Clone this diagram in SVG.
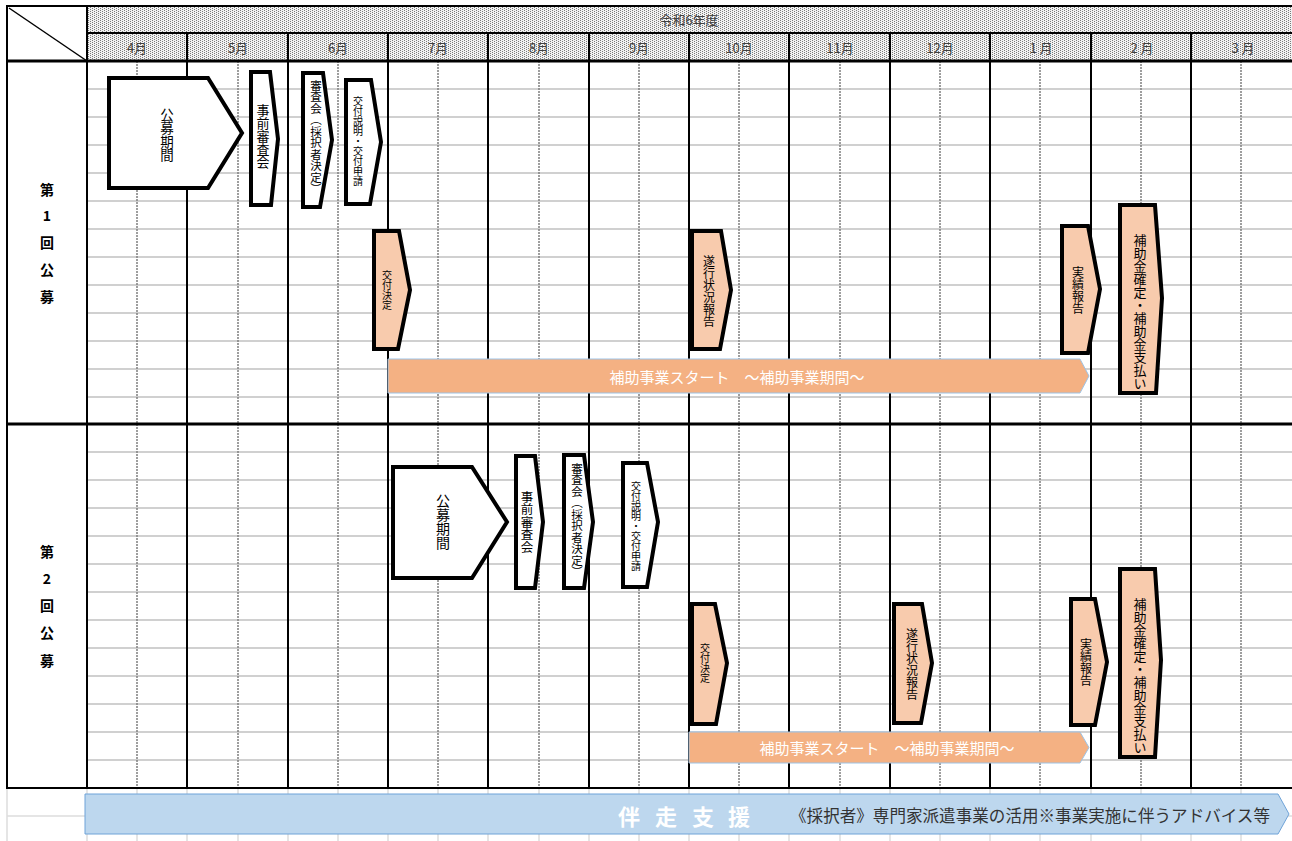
<svg xmlns="http://www.w3.org/2000/svg" width="1292" height="841" viewBox="0 0 1292 841">
<defs>
<pattern id="dots" width="4" height="2" patternUnits="userSpaceOnUse">
<rect width="4" height="2" fill="#f2f2f2"/>
<rect x="0" y="0" width="1" height="1" fill="#7a7a7a"/>
<rect x="2" y="1" width="1" height="1" fill="#7a7a7a"/>
</pattern>
<style>
.hd{font-family:"Noto Sans CJK JP","Noto Sans",sans-serif;font-size:13px;fill:#404040;text-anchor:middle;dominant-baseline:central}
.lb{font-family:"Noto Sans CJK JP","Noto Sans",sans-serif;font-size:14px;font-weight:bold;fill:#000;text-anchor:middle;dominant-baseline:central}
.vt{font-family:"Noto Sans CJK JP",sans-serif;fill:#000;writing-mode:vertical-rl;text-anchor:middle}
.box{fill:#fff;stroke:#000;stroke-width:4;stroke-linejoin:miter}
.obox{fill:#f8cbad;stroke:#000;stroke-width:4;stroke-linejoin:miter}
.bar{fill:#f4b183;stroke:#9dc3e6;stroke-width:1}
.bt{font-family:"Noto Sans CJK JP",sans-serif;font-size:15px;fill:#fff;text-anchor:middle;dominant-baseline:central}
.gh{stroke:#d0d0d0;stroke-width:2}
.gl{stroke:#dcdcdc;stroke-width:1.5}
.mv{stroke:#000;stroke-width:2}
.hv{stroke:#7f7f7f;stroke-width:1.5;stroke-dasharray:2 1}
.bk{stroke:#000;stroke-width:2}
.bk3{stroke:#000;stroke-width:3}
</style>
</defs>
<rect width="1292" height="841" fill="#fff"/>
<g id="grid">
<rect x="87" y="6" width="1205" height="55" fill="url(#dots)"/>
<g class="gl">
<line x1="7" y1="816" x2="1292" y2="816"/>
<line x1="7" y1="788" x2="7" y2="841"/>
<line x1="87" y1="788" x2="87" y2="841"/>
<line x1="137" y1="788" x2="137" y2="841"/><line x1="187" y1="788" x2="187" y2="841"/>
<line x1="238" y1="788" x2="238" y2="841"/><line x1="288" y1="788" x2="288" y2="841"/>
<line x1="338" y1="788" x2="338" y2="841"/><line x1="388" y1="788" x2="388" y2="841"/>
<line x1="438" y1="788" x2="438" y2="841"/><line x1="488" y1="788" x2="488" y2="841"/>
<line x1="539" y1="788" x2="539" y2="841"/><line x1="589" y1="788" x2="589" y2="841"/>
<line x1="639" y1="788" x2="639" y2="841"/><line x1="689" y1="788" x2="689" y2="841"/>
<line x1="739" y1="788" x2="739" y2="841"/><line x1="789" y1="788" x2="789" y2="841"/>
<line x1="840" y1="788" x2="840" y2="841"/><line x1="890" y1="788" x2="890" y2="841"/>
<line x1="940" y1="788" x2="940" y2="841"/><line x1="990" y1="788" x2="990" y2="841"/>
<line x1="1040" y1="788" x2="1040" y2="841"/><line x1="1091" y1="788" x2="1091" y2="841"/>
<line x1="1141" y1="788" x2="1141" y2="841"/><line x1="1191" y1="788" x2="1191" y2="841"/>
<line x1="1241" y1="788" x2="1241" y2="841"/>
</g>
<g class="gh">
<line x1="87" y1="89" x2="1292" y2="89"/><line x1="87" y1="117" x2="1292" y2="117"/>
<line x1="87" y1="145" x2="1292" y2="145"/><line x1="87" y1="173" x2="1292" y2="173"/>
<line x1="87" y1="201" x2="1292" y2="201"/><line x1="87" y1="229" x2="1292" y2="229"/>
<line x1="87" y1="257" x2="1292" y2="257"/><line x1="87" y1="285" x2="1292" y2="285"/>
<line x1="87" y1="313" x2="1292" y2="313"/><line x1="87" y1="341" x2="1292" y2="341"/>
<line x1="87" y1="369" x2="1292" y2="369"/><line x1="87" y1="397" x2="1292" y2="397"/>
<line x1="87" y1="452" x2="1292" y2="452"/><line x1="87" y1="480" x2="1292" y2="480"/>
<line x1="87" y1="508" x2="1292" y2="508"/><line x1="87" y1="536" x2="1292" y2="536"/>
<line x1="87" y1="564" x2="1292" y2="564"/><line x1="87" y1="592" x2="1292" y2="592"/>
<line x1="87" y1="620" x2="1292" y2="620"/><line x1="87" y1="648" x2="1292" y2="648"/>
<line x1="87" y1="676" x2="1292" y2="676"/><line x1="87" y1="704" x2="1292" y2="704"/>
<line x1="87" y1="732" x2="1292" y2="732"/><line x1="87" y1="760" x2="1292" y2="760"/>
</g>
<g class="hv">
<line x1="137" y1="61" x2="137" y2="788"/><line x1="238" y1="61" x2="238" y2="788"/>
<line x1="338" y1="61" x2="338" y2="788"/><line x1="438" y1="61" x2="438" y2="788"/>
<line x1="539" y1="61" x2="539" y2="788"/><line x1="639" y1="61" x2="639" y2="788"/>
<line x1="739" y1="61" x2="739" y2="788"/><line x1="840" y1="61" x2="840" y2="788"/>
<line x1="940" y1="61" x2="940" y2="788"/><line x1="1040" y1="61" x2="1040" y2="788"/>
<line x1="1141" y1="61" x2="1141" y2="788"/><line x1="1241" y1="61" x2="1241" y2="788"/>
</g>
<g class="mv">
<line x1="187" y1="33" x2="187" y2="788"/><line x1="288" y1="33" x2="288" y2="788"/>
<line x1="388" y1="33" x2="388" y2="788"/><line x1="488" y1="33" x2="488" y2="788"/>
<line x1="589" y1="33" x2="589" y2="788"/><line x1="689" y1="33" x2="689" y2="788"/>
<line x1="789" y1="33" x2="789" y2="788"/><line x1="890" y1="33" x2="890" y2="788"/>
<line x1="990" y1="33" x2="990" y2="788"/><line x1="1091" y1="33" x2="1091" y2="788"/>
<line x1="1191" y1="33" x2="1191" y2="788"/>
</g>
<line class="bk" x1="7" y1="6" x2="1292" y2="6"/>
<line class="bk" x1="87" y1="33" x2="1292" y2="33"/>
<line class="bk3" x1="7" y1="61" x2="1292" y2="61"/>
<line class="bk3" x1="7" y1="424" x2="1292" y2="424"/>
<line class="bk" x1="7" y1="788" x2="1292" y2="788"/>
<line class="bk" x1="7" y1="5" x2="7" y2="789"/>
<line class="bk" x1="87" y1="6" x2="87" y2="788"/>
<line x1="9" y1="8" x2="87" y2="61" stroke="#000" stroke-width="1.5"/>
</g>
<g id="header-text">
<text class="hd" x="689" y="19">令和6年度</text>
<text class="hd" x="137" y="47">4月</text>
<text class="hd" x="238" y="47">5月</text>
<text class="hd" x="338" y="47">6月</text>
<text class="hd" x="438" y="47">7月</text>
<text class="hd" x="539" y="47">8月</text>
<text class="hd" x="639" y="47">9月</text>
<text class="hd" x="739" y="47">10月</text>
<text class="hd" x="840" y="47">11月</text>
<text class="hd" x="940" y="47">12月</text>
<text class="hd" x="1041" y="47">1 月</text>
<text class="hd" x="1142" y="47">2 月</text>
<text class="hd" x="1243" y="47">3 月</text>
</g>
<g id="label-round1">
<text class="lb" x="47" y="189">第</text>
<text class="lb" x="47" y="215">1</text>
<text class="lb" x="47" y="242">回</text>
<text class="lb" x="47" y="269">公</text>
<text class="lb" x="47" y="296">募</text>
</g>
<g id="label-round2">
<text class="lb" x="47" y="551">第</text>
<text class="lb" x="47" y="578">2</text>
<text class="lb" x="47" y="605">回</text>
<text class="lb" x="47" y="632">公</text>
<text class="lb" x="47" y="660">募</text>
</g>
<g id="r1-koubo">
<polygon class="box" points="109,78 208,78 242,133 208,188 109,188"/>
<text class="vt" x="167" y="135" font-size="13.5">公募期間</text>
</g>
<g id="r1-jizen">
<polygon class="box" points="251,72 270,72 278,139 271,205 251,205"/>
<text class="vt" x="263" y="136" font-size="13">事前審査会</text>
</g>
<g id="r1-shinsa">
<polygon class="box" points="303,73 323,73 332,140 320,207 303,207"/>
<text class="vt" x="316" y="137" font-size="11.5">審査会（採択者決定）</text>
</g>
<g id="r1-setsumei">
<polygon class="box" points="346,80 371,80 381,142 370,204 346,204"/>
<text class="vt" x="358" y="141" font-size="10">交付説明・交付申請</text>
</g>
<g id="r1-kettei">
<polygon class="obox" points="374,231 399,231 410,290 398,349 374,349"/>
<text class="vt" x="387" y="290" font-size="10">交付決定</text>
</g>
<g id="r1-suikou">
<polygon class="obox" points="692,231 721,231 731,290 720,349 692,349"/>
<text class="vt" x="709" y="291" font-size="12">遂行状況報告</text>
</g>
<g id="r1-bar">
<polygon class="bar" points="388,359 1080,359 1089,376 1080,393 388,393"/>
<text class="bt" x="737" y="376">補助事業スタート　～補助事業期間～</text>
</g>
<g id="r1-jisseki">
<polygon class="obox" points="1062,226 1088,226 1100,289 1088,353 1062,353"/>
<text class="vt" x="1078" y="290" font-size="12">実績報告</text>
</g>
<g id="r1-kakutei">
<polygon class="obox" points="1120,205 1155,205 1162,298 1156,393 1120,393"/>
<text class="vt" x="1140" y="312" font-size="13">補助金確定・補助金支払い</text>
</g>
<g id="r2-koubo">
<polygon class="box" points="393,467 472,467 507,522 472,578 393,578"/>
<text class="vt" x="443" y="522" font-size="14">公募期間</text>
</g>
<g id="r2-jizen">
<polygon class="box" points="516,456 535,456 543,522 535,588 516,588"/>
<text class="vt" x="527" y="522" font-size="12.5">事前審査会</text>
</g>
<g id="r2-shinsa">
<polygon class="box" points="564,455 584,455 593,522 584,588 564,588"/>
<text class="vt" x="577" y="520" font-size="11.5">審査会（採択者決定）</text>
</g>
<g id="r2-setsumei">
<polygon class="box" points="623,463 647,463 658,522 647,587 623,587"/>
<text class="vt" x="636" y="526" font-size="10">交付説明・交付申請</text>
</g>
<g id="r2-kettei">
<polygon class="obox" points="692,604 715,604 727,663 716,724 692,724"/>
<text class="vt" x="705" y="663" font-size="10">交付決定</text>
</g>
<g id="r2-suikou">
<polygon class="obox" points="894,604 922,604 932,663 921,723 894,723"/>
<text class="vt" x="912" y="664" font-size="12">遂行状況報告</text>
</g>
<g id="r2-bar">
<polygon class="bar" points="689,732 1080,732 1089,747.5 1080,763 689,763"/>
<text class="bt" x="887" y="747">補助事業スタート　～補助事業期間～</text>
</g>
<g id="r2-jisseki">
<polygon class="obox" points="1071,599 1095,599 1107,662 1095,725 1071,725"/>
<text class="vt" x="1086" y="662" font-size="12">実績報告</text>
</g>
<g id="r2-kakutei">
<polygon class="obox" points="1120,569 1155,569 1161,660 1155,757 1120,757"/>
<text class="vt" x="1140" y="676" font-size="13">補助金確定・補助金支払い</text>
</g>
<g id="banner">
<polygon points="85,794 1278,794 1289,814 1278,834 85,834" fill="#bdd7ee" stroke="#6fa3d8" stroke-width="1"/>
<text font-family="'Noto Sans CJK JP',sans-serif" font-size="22" font-weight="bold" fill="#fff" text-anchor="middle" dominant-baseline="central" y="815"><tspan x="629">伴</tspan><tspan x="666">走</tspan><tspan x="703">支</tspan><tspan x="739">援</tspan></text>
<text font-family="'Noto Sans CJK JP',sans-serif" font-size="16.5" fill="#333" dominant-baseline="central" x="790" y="815" textLength="480" lengthAdjust="spacingAndGlyphs">《採択者》専門家派遣事業の活用※事業実施に伴うアドバイス等</text>
</g>
<g id="connectors"/>
</svg>
